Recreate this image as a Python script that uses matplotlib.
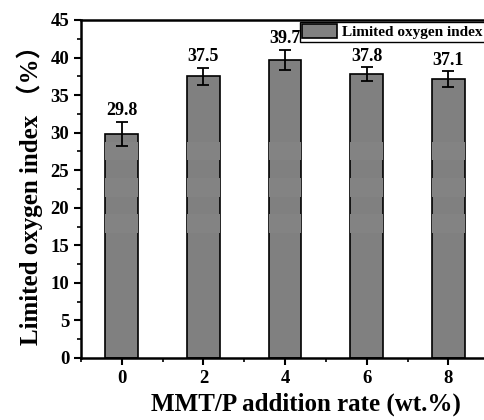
import matplotlib
matplotlib.use('Agg')
import matplotlib.pyplot as plt
from matplotlib.ticker import MultipleLocator

# data
rates = [0, 2, 4, 6, 8]
loi = [29.8, 37.5, 39.7, 37.8, 37.1]
loi_err = [1.6, 1.1, 1.35, 0.9, 1.05]
value_labels = ['29.8', '37.5', '39.7', '37.8', '37.1']

plt.rcParams['font.family'] = ['Liberation Serif', 'Noto Sans CJK SC']
plt.rcParams['font.weight'] = 'bold'
plt.rcParams['axes.labelweight'] = 'bold'

fig = plt.figure(figsize=(4.85, 4.2), dpi=100)
ax = fig.add_axes([81 / 485, 62 / 420, 449 / 485, 338 / 420])

bars = ax.bar(rates, loi, width=0.8, color='#808080', edgecolor='black',
              linewidth=1.2, label='Limited oxygen index', zorder=2)
ax.errorbar(rates, loi, yerr=loi_err, fmt='none', ecolor='black',
            elinewidth=1.3, capsize=4, capthick=1.3, zorder=4)

# faint lighter banding seen inside the bars
for bar in bars:
    for lo, hi in [(16.6, 19.2), (21.4, 24.0), (26.4, 28.8)]:
        band = ax.axhspan(lo, hi, color='#838383', lw=0, zorder=2.5)
        band.set_clip_path(bar)

for x, y, e, s in zip(rates, loi, loi_err, value_labels):
    ax.annotate(s, (x, y + e), xytext=(0, 2), textcoords='offset points',
                ha='center', va='bottom', fontsize=13, fontweight='bold')

ax.set_xlim(-1.0, 10.0)
ax.set_ylim(0, 45)
ax.set_xticks(rates)
ax.xaxis.set_minor_locator(MultipleLocator(1))
ax.yaxis.set_major_locator(MultipleLocator(5))
ax.yaxis.set_minor_locator(MultipleLocator(2.5))
ax.tick_params(which='major', direction='out', length=5, width=1.5, labelsize=13.5)
ax.tick_params(which='minor', direction='out', length=3, width=1.2)
for sp in ax.spines.values():
    sp.set_linewidth(1.8)

ax.set_xlabel('MMT/P addition rate (wt.%)', fontsize=18, fontweight='bold', labelpad=4)
ax.set_ylabel('Limited oxygen index （%）', fontsize=18, fontweight='bold', labelpad=5)

leg = fig.legend(loc='upper left', bbox_to_anchor=(300 / 485, 1 - 22 / 420),
                 fontsize=11, frameon=True, fancybox=False, framealpha=1,
                 edgecolor='black', borderpad=0.15, borderaxespad=0,
                 handlelength=2.3, handleheight=1.0, handletextpad=0.3)
leg.get_frame().set_linewidth(1.0)

fig.savefig('out.png', dpi=100)
plt.close(fig)
